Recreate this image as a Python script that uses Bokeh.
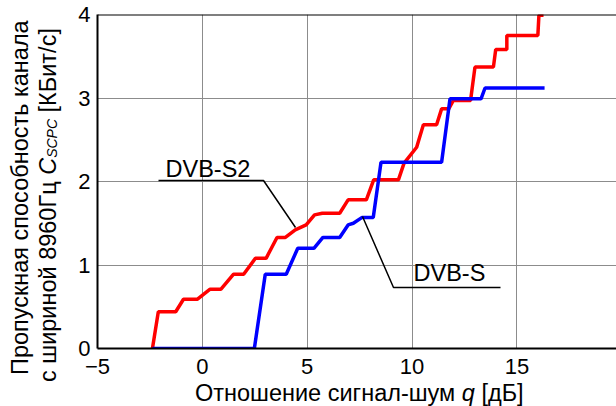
from bokeh.plotting import figure
from bokeh.models import Label, Span, Range1d, FixedTicker, Div
from bokeh.layouts import row, column
from bokeh.embed import file_html
from bokeh.resources import INLINE

# ---- data ----
snr_dvbs2 = [-2.38, -2.10, -1.27, -0.90, -0.23, 0.37, 0.89, 1.49, 1.97, 2.53, 3.04,
             3.56, 3.96, 4.43, 4.95, 5.35, 5.72, 6.55, 6.95, 7.82, 8.17, 9.35, 9.62,
             10.22, 10.54, 11.17, 11.41, 11.75, 11.97, 12.79, 13.00, 13.88, 13.99,
             14.52, 14.52, 16.00, 16.05, 16.27]
cap_dvbs2 = [0.00, 0.44, 0.44, 0.59, 0.59, 0.71, 0.71, 0.89, 0.89, 1.08, 1.08,
             1.33, 1.33, 1.42, 1.48, 1.60, 1.62, 1.62, 1.78, 1.78, 2.02, 2.02, 2.22,
             2.41, 2.68, 2.68, 2.87, 2.87, 2.97, 2.97, 3.37, 3.37, 3.58,
             3.58, 3.75, 3.75, 3.99, 3.99]

snr_dvbs = [-2.38, 2.48, 3.00, 4.00, 4.55, 5.32, 5.75, 6.55, 6.95, 7.20, 7.62,
            8.15, 8.52, 11.41, 11.81, 13.29, 13.48, 16.32]
cap_dvbs = [0.00, 0.00, 0.89, 0.89, 1.20, 1.20, 1.33, 1.33, 1.48, 1.50, 1.57,
            1.57, 2.23, 2.23, 2.99, 2.99, 3.12, 3.12]

x_ticks = [-5, 0, 5, 10, 15]
y_ticks = [0, 1, 2, 3, 4]

x_label_html = "Отношение сигнал-шум <i>q</i> [дБ]"
y_label_line1 = "Пропускная способность канала"
y_label_line2 = ("с шириной 8960Гц <i>C</i><span style=\"font-size:14px;font-style:italic;"
                 "vertical-align:-1px;\">SCPC</span> [КБит/с]")

# ---- layout (page pixels) ----
YLAB_W = 62          # width of the y-label column
FIG_W, FIG_H = 616 - YLAB_W, 382
XLAB_H = 406 - FIG_H
L, T, B = 35, 14, 34  # figure borders -> frame at page x 97..616, y 14..348
X0, X1 = -5.0, 19.75
Y0, Y1 = 0.0, 4.0
FW = FIG_W - L
FH = FIG_H - T - B
PX0 = YLAB_W + L     # page x of frame left


def qx(px):
    """page pixel x -> data x"""
    return X0 + (px - PX0) / FW * (X1 - X0)


def cy(py):
    """page pixel y -> data y"""
    return Y1 - (py - T) / FH * (Y1 - Y0)


FONT = "Liberation Sans"

p = figure(width=FIG_W, height=FIG_H, x_range=Range1d(X0, X1), y_range=Range1d(Y0, Y1),
           output_backend="svg", toolbar_location=None,
           min_border_left=L, min_border_right=0, min_border_top=T, min_border_bottom=B)
p.outline_line_color = None
p.background_fill_color = "white"
p.border_fill_color = "white"

for ax in (p.xaxis, p.yaxis):
    ax.axis_line_color = "black"
    ax.axis_line_width = 2
    ax.major_tick_in = 0
    ax.major_tick_out = 0
    ax.minor_tick_in = 0
    ax.minor_tick_out = 0
    ax.major_label_text_font = FONT
    ax.major_label_text_font_size = "22px"
    ax.major_label_text_color = "black"
p.xaxis.ticker = FixedTicker(ticks=x_ticks)
p.yaxis.ticker = FixedTicker(ticks=y_ticks)
p.xaxis.major_label_standoff = 10
p.yaxis.major_label_standoff = 7

p.xgrid.grid_line_color = "#8c8c8c"
p.ygrid.grid_line_color = "#8c8c8c"
p.xgrid.grid_line_width = 1
p.ygrid.grid_line_width = 1

p.add_layout(Span(location=Y1, dimension="width", line_color="black", line_width=2))

# ---- curves ----
p.line(snr_dvbs2, cap_dvbs2, line_color="#ff0000", line_width=3.5)
p.line(snr_dvbs, cap_dvbs, line_color="#0000ff", line_width=3.5)

# ---- annotations ----
s2_lead_x = [qx(158), qx(263), qx(295)]
s2_lead_y = [cy(180), cy(180), cy(227)]
s_lead_x = [qx(362), qx(393), qx(500)]
s_lead_y = [cy(216), cy(287), cy(287)]
p.line(s2_lead_x, s2_lead_y, line_color="black", line_width=1.5)
p.line(s_lead_x, s_lead_y, line_color="black", line_width=1.5)

for px, py, txt in [(165, 168.5, "DVB-S2"), (413, 272.5, "DVB-S")]:
    p.add_layout(Label(x=qx(px), y=cy(py), text=txt, text_font=FONT,
                       text_font_size="23.5px", text_color="black",
                       text_baseline="middle", text_align="left"))

# ---- axis titles as HTML (italic / subscript parts) ----
rot = ("position:absolute;transform-origin:0 0;transform:rotate(-90deg);"
       "white-space:nowrap;font-size:23.5px;line-height:23.5px;")
ydiv_html = (
    f"<div style=\"position:relative;width:{YLAB_W}px;height:{FIG_H}px;"
    f"font-family:'{FONT}';color:#000;\">"
    f"<div style=\"{rot}left:8.5px;top:375px;\">{y_label_line1}</div>"
    f"<div style=\"{rot}left:37px;top:382px;\">{y_label_line2}</div>"
    "</div>"
)
xdiv_html = (
    f"<div style=\"position:relative;width:616px;height:{XLAB_H}px;"
    f"font-family:'{FONT}';color:#000;\">"
    "<div style=\"position:absolute;left:195px;top:0px;white-space:nowrap;"
    f"font-size:23.5px;line-height:23.5px;\">{x_label_html}</div>"
    "</div>"
)
ydiv = Div(text=ydiv_html, width=YLAB_W, height=FIG_H, margin=0)
xdiv = Div(text=xdiv_html, width=616, height=XLAB_H, margin=0)

layout = column(row(ydiv, p, spacing=0, margin=0), xdiv, spacing=0, margin=0)

open("out.html", "w").write(file_html(layout, INLINE))
